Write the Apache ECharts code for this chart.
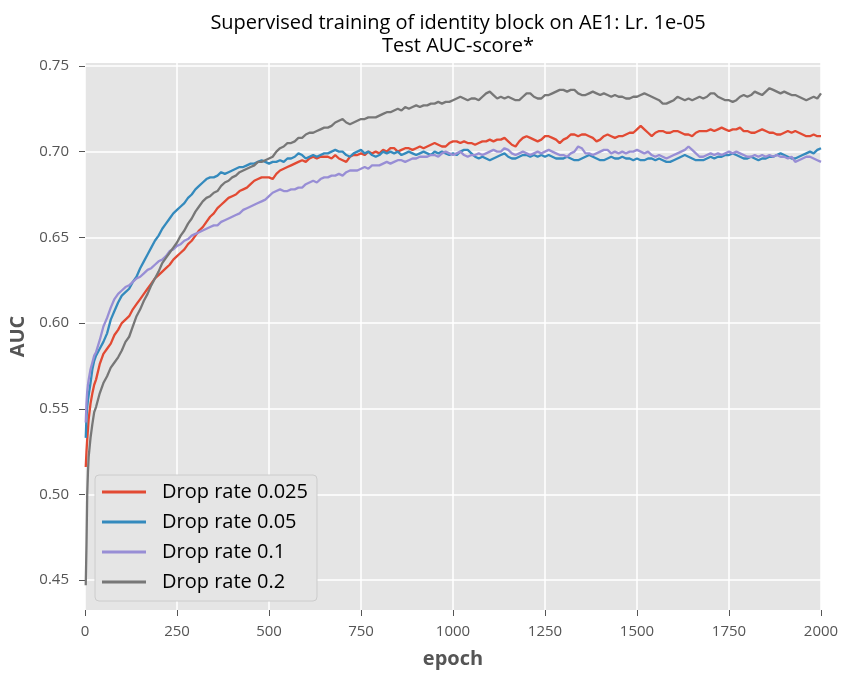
<!DOCTYPE html>
<html>
<head>
<meta charset="utf-8">
<title>Test AUC-score</title>
<script src="https://cdn.jsdelivr.net/npm/echarts@6/dist/echarts.min.js"></script>
<style>
  html, body { margin: 0; padding: 0; background: #ffffff; }
  #chart { width: 843px; height: 674px; }
</style>
</head>
<body>
<div id="chart"></div>
<script>
// Sampling grid of the logged epochs
const epochs = [2, 4, 6, 8, 10, 15, 20, 25, 30];
for (let e = 40; e <= 2000; e += 10) epochs.push(e);

const seriesNames = ['Drop rate 0.025', 'Drop rate 0.05', 'Drop rate 0.1', 'Drop rate 0.2'];
const seriesColors = ['#E24A33', '#348ABD', '#988ED5', '#777777'];

const xTicks = [0, 250, 500, 750, 1000, 1250, 1500, 1750, 2000];
const yTicks = [0.45, 0.50, 0.55, 0.60, 0.65, 0.70, 0.75];

// Test AUC per epoch, drop rate 0.025
const auc025 = [
  0.516, 0.525, 0.532, 0.538, 0.544, 0.553, 0.559, 0.564, 0.567,
  0.576, 0.582, 0.585, 0.588, 0.593, 0.596,
  0.600, 0.602, 0.604, 0.608, 0.611, 0.614, 0.617, 0.620, 0.623, 0.626,
  0.628, 0.630, 0.632, 0.634, 0.637, 0.639, 0.641, 0.643, 0.646, 0.648,
  0.651, 0.654, 0.656, 0.659, 0.662, 0.664, 0.667, 0.669, 0.671, 0.673,
  0.674, 0.675, 0.677, 0.678, 0.679, 0.681, 0.683, 0.684, 0.685, 0.685,
  0.685, 0.684, 0.687, 0.689, 0.690, 0.691, 0.692, 0.693, 0.694, 0.695,
  0.694, 0.696, 0.697, 0.696, 0.697, 0.697, 0.697, 0.696, 0.698, 0.696,
  0.695, 0.694, 0.697, 0.698, 0.698, 0.699, 0.698, 0.700, 0.699, 0.700,
  0.699, 0.701, 0.700, 0.702, 0.702, 0.700, 0.701, 0.702, 0.702, 0.701,
  0.702, 0.703, 0.702, 0.703, 0.704, 0.705, 0.704, 0.703, 0.703, 0.705,
  0.706, 0.706, 0.705, 0.706, 0.705, 0.705, 0.704, 0.705, 0.706, 0.706,
  0.707, 0.706, 0.707, 0.707, 0.708, 0.706, 0.704, 0.703, 0.706, 0.708,
  0.709, 0.708, 0.707, 0.706, 0.707, 0.709, 0.709, 0.708, 0.707, 0.705,
  0.707, 0.708, 0.710, 0.710, 0.709, 0.710, 0.710, 0.709, 0.708, 0.706,
  0.707, 0.709, 0.710, 0.709, 0.708, 0.709, 0.709, 0.710, 0.711, 0.711,
  0.713, 0.715, 0.713, 0.711, 0.709, 0.711, 0.712, 0.712, 0.711, 0.711,
  0.712, 0.712, 0.711, 0.710, 0.710, 0.709, 0.711, 0.712, 0.712, 0.712,
  0.713, 0.712, 0.713, 0.714, 0.713, 0.712, 0.713, 0.713, 0.714, 0.712,
  0.712, 0.711, 0.711, 0.712, 0.713, 0.712, 0.711, 0.711, 0.710, 0.710,
  0.711, 0.712, 0.711, 0.712, 0.711, 0.710, 0.709, 0.709, 0.710, 0.709,
  0.709
];

// Test AUC per epoch, drop rate 0.05
const auc05 = [
  0.533, 0.545, 0.551, 0.555, 0.558, 0.565, 0.573, 0.578, 0.581,
  0.585, 0.589, 0.594, 0.602, 0.607, 0.612,
  0.616, 0.618, 0.620, 0.624, 0.627, 0.632, 0.636, 0.640, 0.644, 0.648,
  0.651, 0.655, 0.658, 0.661, 0.664, 0.666, 0.668, 0.670, 0.673, 0.675,
  0.678, 0.680, 0.682, 0.684, 0.685, 0.685, 0.686, 0.688, 0.687, 0.688,
  0.689, 0.690, 0.691, 0.691, 0.692, 0.693, 0.693, 0.694, 0.695, 0.694,
  0.693, 0.694, 0.694, 0.695, 0.694, 0.696, 0.696, 0.697, 0.699, 0.698,
  0.696, 0.697, 0.698, 0.697, 0.698, 0.699, 0.699, 0.700, 0.701, 0.700,
  0.700, 0.698, 0.697, 0.699, 0.700, 0.701, 0.699, 0.700, 0.698, 0.697,
  0.698, 0.700, 0.699, 0.700, 0.699, 0.700, 0.698, 0.699, 0.700, 0.699,
  0.698, 0.699, 0.700, 0.699, 0.698, 0.700, 0.699, 0.700, 0.699, 0.698,
  0.699, 0.698, 0.700, 0.701, 0.701, 0.699, 0.697, 0.696, 0.697, 0.696,
  0.695, 0.696, 0.697, 0.698, 0.699, 0.697, 0.696, 0.696, 0.697, 0.698,
  0.698, 0.697, 0.698, 0.697, 0.698, 0.697, 0.698, 0.697, 0.696, 0.696,
  0.696, 0.697, 0.696, 0.695, 0.695, 0.696, 0.697, 0.698, 0.697, 0.696,
  0.695, 0.695, 0.696, 0.697, 0.696, 0.696, 0.697, 0.696, 0.696, 0.695,
  0.696, 0.695, 0.695, 0.696, 0.696, 0.695, 0.696, 0.695, 0.694, 0.694,
  0.695, 0.696, 0.697, 0.698, 0.697, 0.696, 0.695, 0.695, 0.695, 0.696,
  0.697, 0.696, 0.697, 0.697, 0.698, 0.698, 0.699, 0.698, 0.697, 0.696,
  0.696, 0.697, 0.696, 0.695, 0.696, 0.696, 0.697, 0.697, 0.698, 0.699,
  0.698, 0.697, 0.696, 0.696, 0.697, 0.698, 0.699, 0.700, 0.699, 0.701,
  0.702
];

// Test AUC per epoch, drop rate 0.1
const auc1 = [
  0.542, 0.553, 0.560, 0.564, 0.567, 0.573, 0.577, 0.581, 0.583,
  0.590, 0.598, 0.603, 0.609, 0.614, 0.617,
  0.619, 0.621, 0.622, 0.624, 0.626, 0.627, 0.629, 0.631, 0.632, 0.634,
  0.636, 0.637, 0.639, 0.642, 0.643, 0.645, 0.646, 0.648, 0.649, 0.651,
  0.652, 0.653, 0.654, 0.655, 0.656, 0.657, 0.657, 0.659, 0.660, 0.661,
  0.662, 0.663, 0.664, 0.666, 0.667, 0.668, 0.669, 0.670, 0.671, 0.672,
  0.674, 0.676, 0.677, 0.678, 0.677, 0.677, 0.678, 0.678, 0.679, 0.679,
  0.681, 0.682, 0.683, 0.682, 0.684, 0.685, 0.685, 0.686, 0.686, 0.687,
  0.686, 0.688, 0.689, 0.689, 0.689, 0.690, 0.691, 0.690, 0.692, 0.692,
  0.692, 0.693, 0.694, 0.693, 0.694, 0.695, 0.695, 0.694, 0.695, 0.696,
  0.696, 0.697, 0.697, 0.697, 0.698, 0.698, 0.697, 0.699, 0.700, 0.699,
  0.698, 0.699, 0.700, 0.698, 0.697, 0.698, 0.698, 0.699, 0.698, 0.699,
  0.700, 0.701, 0.700, 0.700, 0.702, 0.701, 0.699, 0.698, 0.699, 0.700,
  0.699, 0.698, 0.699, 0.700, 0.699, 0.700, 0.701, 0.700, 0.699, 0.698,
  0.698, 0.697, 0.699, 0.700, 0.703, 0.702, 0.699, 0.699, 0.698, 0.699,
  0.700, 0.701, 0.701, 0.699, 0.700, 0.699, 0.700, 0.699, 0.700, 0.700,
  0.701, 0.700, 0.699, 0.700, 0.698, 0.697, 0.698, 0.697, 0.696, 0.697,
  0.698, 0.699, 0.700, 0.701, 0.703, 0.701, 0.699, 0.697, 0.697, 0.698,
  0.699, 0.698, 0.699, 0.698, 0.699, 0.700, 0.699, 0.700, 0.699, 0.698,
  0.697, 0.697, 0.698, 0.697, 0.698, 0.697, 0.698, 0.697, 0.698, 0.697,
  0.697, 0.696, 0.697, 0.694, 0.695, 0.696, 0.697, 0.697, 0.696, 0.695,
  0.694
];

// Test AUC per epoch, drop rate 0.2
const auc2 = [
  0.447, 0.470, 0.500, 0.513, 0.522, 0.533, 0.541, 0.548, 0.551,
  0.559, 0.565, 0.569, 0.574, 0.577, 0.580,
  0.584, 0.589, 0.592, 0.598, 0.604, 0.608, 0.613, 0.617, 0.622, 0.626,
  0.630, 0.635, 0.638, 0.641, 0.644, 0.647, 0.651, 0.654, 0.658, 0.661,
  0.665, 0.668, 0.671, 0.673, 0.674, 0.676, 0.677, 0.680, 0.682, 0.683,
  0.685, 0.686, 0.688, 0.689, 0.690, 0.691, 0.692, 0.694, 0.694, 0.695,
  0.696, 0.697, 0.700, 0.702, 0.703, 0.705, 0.705, 0.706, 0.708, 0.708,
  0.710, 0.711, 0.711, 0.712, 0.713, 0.714, 0.714, 0.715, 0.717, 0.718,
  0.719, 0.717, 0.716, 0.717, 0.718, 0.719, 0.719, 0.720, 0.720, 0.720,
  0.721, 0.722, 0.723, 0.723, 0.724, 0.725, 0.724, 0.726, 0.725, 0.726,
  0.727, 0.726, 0.727, 0.727, 0.728, 0.728, 0.729, 0.728, 0.729, 0.729,
  0.730, 0.731, 0.732, 0.731, 0.730, 0.731, 0.731, 0.730, 0.732, 0.734,
  0.735, 0.733, 0.731, 0.732, 0.731, 0.732, 0.731, 0.730, 0.730, 0.732,
  0.734, 0.734, 0.732, 0.731, 0.731, 0.733, 0.733, 0.734, 0.735, 0.736,
  0.736, 0.735, 0.736, 0.736, 0.734, 0.733, 0.733, 0.734, 0.735, 0.734,
  0.733, 0.734, 0.733, 0.732, 0.733, 0.732, 0.732, 0.731, 0.731, 0.732,
  0.732, 0.733, 0.734, 0.733, 0.732, 0.731, 0.730, 0.728, 0.728, 0.729,
  0.730, 0.732, 0.731, 0.730, 0.731, 0.730, 0.731, 0.732, 0.731, 0.732,
  0.734, 0.734, 0.732, 0.731, 0.730, 0.730, 0.729, 0.730, 0.732, 0.733,
  0.732, 0.733, 0.735, 0.734, 0.733, 0.735, 0.737, 0.736, 0.735, 0.734,
  0.735, 0.734, 0.733, 0.733, 0.732, 0.731, 0.730, 0.731, 0.732, 0.731,
  0.734
];

const seriesValues = [auc025, auc05, auc1, auc2];

const FONT = '"Open Sans", "Noto Sans", "DejaVu Sans", sans-serif';
const TICK_COLOR = '#555555';

const pairUp = vals => vals.map((v, i) => [epochs[i], v]);

const chart = echarts.init(document.getElementById('chart'), null, { renderer: 'canvas' });

const lineSeries = seriesNames.map((name, k) => ({
  name: name,
  type: 'line',
  data: pairUp(seriesValues[k]),
  showSymbol: false,
  symbol: 'none',
  z: 3 + k,
  lineStyle: { color: seriesColors[k], width: 2.3 },
  itemStyle: { color: seriesColors[k] },
  emphasis: { disabled: true },
  animation: false
}));

// Horizontal white grid lines at the labelled AUC values
const gridSeries = {
  name: '_grid',
  type: 'line',
  data: [],
  silent: true,
  z: 1,
  animation: false,
  markLine: {
    silent: true,
    z: 1,
    symbol: 'none',
    animation: false,
    label: { show: false },
    lineStyle: { color: '#ffffff', width: 1.5, type: 'solid' },
    emphasis: { disabled: true },
    data: yTicks.map(v => ({ yAxis: v }))
  }
};

chart.setOption({
  animation: false,
  textStyle: { fontFamily: FONT },
  title: {
    text: 'Supervised training of identity block on AE1: Lr. 1e-05\nTest AUC-score*',
    left: 453,
    top: 7,
    textAlign: 'center',
    textStyle: {
      fontFamily: FONT,
      fontSize: 20,
      fontWeight: 'normal',
      color: '#000000',
      lineHeight: 23
    }
  },
  grid: {
    left: 85,
    right: 22,
    top: 63,
    bottom: 64,
    show: true,
    backgroundColor: '#E5E5E5',
    borderWidth: 0
  },
  legend: {
    data: seriesNames,
    orient: 'vertical',
    left: 95,
    top: 475,
    icon: 'rect',
    itemWidth: 44,
    itemHeight: 3,
    itemGap: 10,
    padding: [7, 9, 9, 7],
    backgroundColor: '#E5E5E5',
    borderColor: '#CCCCCC',
    borderWidth: 1,
    borderRadius: 4,
    textStyle: {
      fontFamily: FONT,
      fontSize: 20,
      color: '#000000',
      lineHeight: 20,
      padding: [0, 0, 0, 11]
    }
  },
  xAxis: {
    type: 'value',
    min: 0,
    max: 2000,
    interval: 250,
    name: 'epoch',
    nameLocation: 'middle',
    nameGap: 39,
    nameTextStyle: { fontFamily: FONT, fontSize: 20, fontWeight: 'bold', color: TICK_COLOR },
    axisLine: { show: false },
    axisTick: { show: true, inside: false, length: 6, lineStyle: { color: TICK_COLOR, width: 1 } },
    axisLabel: {
      color: TICK_COLOR, fontSize: 15, margin: 14, fontFamily: FONT,
      formatter: v => String(v)
    },
    splitLine: { show: true, lineStyle: { color: '#ffffff', width: 1.5 } }
  },
  yAxis: {
    type: 'value',
    min: 0.4326,
    max: 0.7517,
    name: 'AUC',
    nameLocation: 'middle',
    nameGap: 55,
    nameRotate: 90,
    nameTextStyle: { fontFamily: FONT, fontSize: 20, fontWeight: 'bold', color: TICK_COLOR },
    axisLine: { show: false },
    axisTick: {
      show: true, inside: false, length: 6,
      customValues: yTicks,
      lineStyle: { color: TICK_COLOR, width: 1 }
    },
    axisLabel: {
      color: TICK_COLOR, fontSize: 15, margin: 16, fontFamily: FONT,
      customValues: yTicks,
      formatter: v => v.toFixed(2)
    },
    splitLine: { show: false }
  },
  series: [gridSeries].concat(lineSeries)
});
</script>
</body>
</html>
